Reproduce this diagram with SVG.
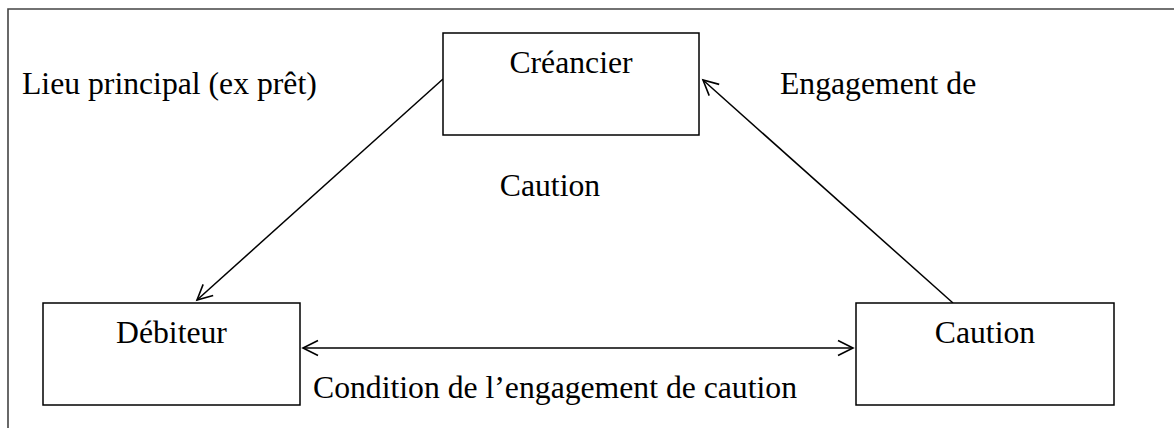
<svg xmlns="http://www.w3.org/2000/svg" width="1174" height="428" viewBox="0 0 1174 428">
<style>
.box{fill:#fff;stroke:#000;stroke-width:1.5}
.t{font-family:"Liberation Serif","Times New Roman",serif;font-size:31.7px;fill:#000}
.c{stroke:#000;stroke-width:1.5;fill:none}
</style>
<defs>
<marker id="ah" markerUnits="userSpaceOnUse" markerWidth="30" markerHeight="30" viewBox="-20 -15 30 30" refX="0" refY="0" orient="auto-start-reverse">
<path d="M-15,-7.5 L0,0 L-15,7.5" fill="none" stroke="#000" stroke-width="1.6"/>
</marker>
</defs>
<rect width="1174" height="428" fill="#fff"/>
<g id="frame">
<path d="M8,428 V9 H1174" fill="none" stroke="#444" stroke-width="1.6"/>
</g>
<g id="connectors">
<line class="c" x1="443" y1="79" x2="197" y2="300" marker-end="url(#ah)"/>
<line class="c" x1="953" y1="303" x2="703" y2="80" marker-end="url(#ah)"/>
<line class="c" x1="303" y1="348" x2="853" y2="348" marker-start="url(#ah)" marker-end="url(#ah)"/>
</g>
<g id="creancier">
<rect class="box" x="443" y="33" width="256" height="102"/>
<text class="t" x="571" y="73" text-anchor="middle">Créancier</text>
</g>
<g id="debiteur">
<rect class="box" x="43" y="303" width="257" height="102"/>
<text class="t" x="171.5" y="343" text-anchor="middle">Débiteur</text>
</g>
<g id="caution">
<rect class="box" x="856" y="303" width="258" height="102"/>
<text class="t" x="985" y="343" text-anchor="middle">Caution</text>
</g>
<g id="labels">
<text class="t" x="22" y="94">Lieu principal (ex prêt)</text>
<text class="t" x="780" y="94">Engagement de</text>
<text class="t" x="550" y="196" text-anchor="middle">Caution</text>
<text class="t" x="313" y="398">Condition de l’engagement de caution</text>
</g>
</svg>
